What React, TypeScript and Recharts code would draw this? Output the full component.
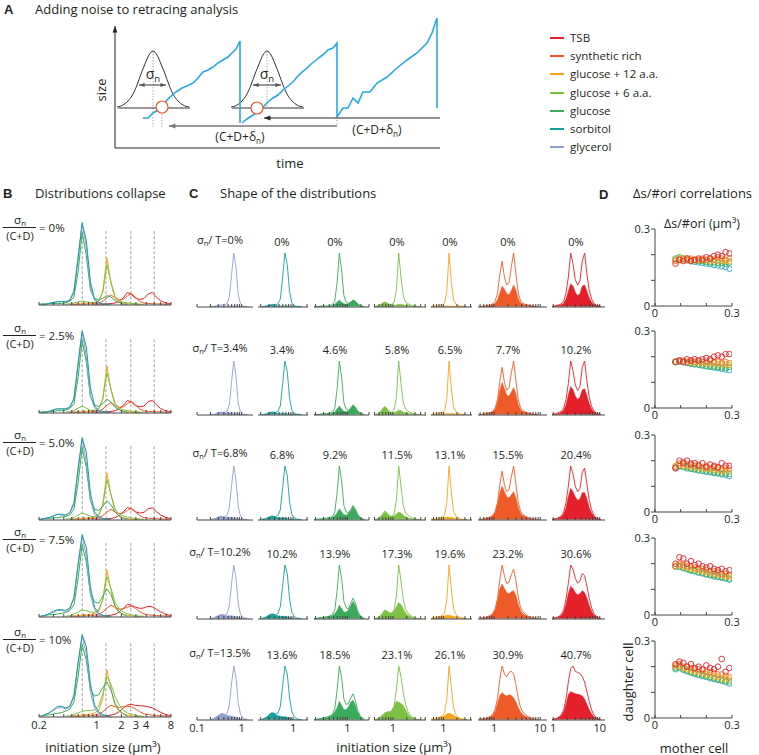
import React from 'react';
import { ComposedChart, Line, Area, Scatter, XAxis, YAxis, ReferenceLine } from 'recharts';

const FONT = '"Open Sans", "Noto Sans", "DejaVu Sans", sans-serif';
const INK = '#231f20';

// ---------- Legend / conditions ----------
const LEGEND_NAMES = ['TSB', 'synthetic rich', 'glucose + 12 a.a.', 'glucose + 6 a.a.', 'glucose', 'sorbitol', 'glycerol'];
const LEGEND_COLORS = ['#e4202a', '#ef5a29', '#f6a41c', '#7cc144', '#3aab5b', '#16a09b', '#8e9fd2'];

// C-panel column order: glycerol, sorbitol, glucose, glucose+6, glucose+12, synthetic rich, TSB
const COND_COLORS = ['#8e9fd2', '#16a09b', '#3aab5b', '#7cc144', '#f6a41c', '#ef5a29', '#e4202a'];

// initiation size grid (µm³), log-spaced
const SIZE_GRID = [0.094, 0.106, 0.119, 0.133, 0.15, 0.168, 0.188, 0.211, 0.237, 0.266, 0.299, 0.335, 0.376, 0.422, 0.473, 0.531, 0.596, 0.668, 0.75, 0.841, 0.944, 1.059, 1.189, 1.334, 1.496, 1.679, 1.884, 2.113, 2.371, 2.661, 2.985, 3.35, 3.758, 4.217, 4.732, 5.309, 5.957, 6.683, 7.499, 8.414, 9.44, 10.59];
const COND_START = [7, 7, 6, 13, 15, 14, 20];

const GLYCEROL_TOTAL = [
  [0, 0, 1, 2, 3, 3, 3, 5, 18, 60, 100, 72, 22, 5, 1, 0, 0],
  [0, 0, 1, 3, 4, 4, 4, 6, 18, 62, 100, 70, 20, 5, 1, 0, 0],
  [0, 1, 2, 4, 6, 5, 5, 8, 22, 64, 100, 72, 24, 6, 2, 0, 0],
  [0, 1, 3, 5, 7, 7, 6, 9, 24, 66, 100, 75, 27, 8, 2, 1, 0],
  [0, 2, 4, 7, 10, 11, 9, 12, 27, 68, 100, 78, 30, 10, 3, 1, 0],
];
const GLYCEROL_NOISE = [
  [0, 0, 0, 1, 1, 1, 1, 1, 1, 1, 1, 1, 0, 0, 0, 0, 0],
  [0, 0, 1, 3, 4, 4, 3, 3, 3, 3, 2, 2, 1, 0, 0, 0, 0],
  [0, 1, 2, 4, 6, 5, 4, 4, 4, 4, 3, 2, 1, 0, 0, 0, 0],
  [0, 1, 3, 5, 7, 7, 6, 5, 5, 5, 4, 3, 2, 1, 0, 0, 0],
  [0, 2, 4, 7, 10, 11, 9, 8, 7, 6, 5, 4, 2, 1, 0, 0, 0],
];
const SORBITOL_TOTAL = [
  [0, 0, 1, 2, 3, 3, 3, 5, 14, 55, 100, 78, 28, 6, 2, 0, 0, 0],
  [0, 0, 1, 3, 4, 4, 4, 6, 16, 58, 100, 80, 30, 8, 2, 1, 0, 0],
  [0, 1, 2, 4, 6, 6, 5, 8, 18, 60, 100, 82, 32, 9, 3, 1, 0, 0],
  [0, 1, 3, 6, 8, 8, 7, 10, 22, 62, 100, 84, 36, 11, 4, 1, 0, 0],
  [0, 2, 4, 8, 12, 12, 10, 12, 24, 64, 100, 85, 40, 14, 5, 2, 0, 0],
];
const SORBITOL_NOISE = [
  [0, 0, 1, 2, 3, 3, 2, 1, 1, 1, 1, 1, 0, 0, 0, 0, 0, 0],
  [0, 0, 1, 3, 4, 4, 3, 2, 2, 2, 2, 1, 1, 0, 0, 0, 0, 0],
  [0, 1, 2, 4, 6, 6, 4, 3, 3, 3, 3, 2, 1, 0, 0, 0, 0, 0],
  [0, 1, 3, 6, 8, 8, 6, 5, 4, 4, 4, 3, 2, 1, 0, 0, 0, 0],
  [0, 2, 4, 8, 12, 12, 9, 7, 6, 5, 5, 4, 3, 1, 0, 0, 0, 0],
];
const GLUCOSE_TOTAL = [
  [0, 0, 0, 1, 1, 1, 1, 2, 4, 10, 45, 100, 68, 20, 8, 6, 8, 12, 10, 5, 2, 0, 0],
  [0, 0, 0, 1, 1, 2, 2, 3, 5, 12, 48, 100, 70, 22, 10, 8, 12, 18, 14, 7, 3, 1, 0],
  [0, 0, 1, 1, 2, 2, 3, 4, 6, 14, 50, 100, 72, 26, 14, 12, 18, 26, 20, 10, 4, 1, 0],
  [0, 0, 1, 2, 2, 3, 4, 5, 8, 16, 52, 100, 75, 32, 20, 18, 28, 38, 30, 14, 6, 2, 0],
  [0, 0, 1, 2, 3, 4, 5, 7, 10, 20, 55, 100, 78, 38, 28, 30, 40, 48, 36, 18, 8, 3, 0],
];
const GLUCOSE_NOISE = [
  [0, 0, 0, 0, 0, 0, 0, 1, 2, 4, 8, 12, 8, 5, 4, 5, 8, 12, 10, 5, 2, 0, 0],
  [0, 0, 0, 0, 1, 1, 1, 2, 3, 5, 10, 16, 10, 6, 5, 7, 11, 17, 13, 6, 3, 1, 0],
  [0, 0, 0, 1, 1, 2, 2, 3, 4, 7, 12, 20, 14, 9, 8, 11, 16, 24, 18, 9, 4, 1, 0],
  [0, 0, 1, 1, 2, 2, 3, 4, 6, 9, 15, 25, 18, 12, 12, 16, 24, 32, 25, 12, 5, 2, 0],
  [0, 0, 1, 2, 3, 3, 4, 6, 9, 14, 22, 34, 26, 18, 18, 24, 32, 36, 27, 14, 6, 2, 0],
];
const GLUCOSE6_TOTAL = [
  [0, 1, 3, 6, 8, 6, 4, 4, 8, 30, 100, 55, 20, 8, 5, 3, 2, 1, 0, 0],
  [0, 1, 4, 10, 15, 10, 5, 4, 8, 32, 100, 58, 22, 10, 6, 4, 2, 1, 0, 0],
  [0, 1, 4, 10, 16, 12, 7, 6, 10, 35, 100, 62, 26, 12, 8, 5, 3, 1, 0, 0],
  [0, 1, 5, 10, 16, 14, 10, 10, 16, 42, 100, 70, 35, 18, 10, 6, 3, 1, 0, 0],
  [0, 1, 4, 8, 12, 14, 14, 16, 25, 55, 100, 80, 50, 28, 15, 8, 4, 2, 0, 0],
];
const GLUCOSE6_NOISE = [
  [0, 1, 3, 6, 8, 6, 3, 2, 2, 3, 4, 4, 3, 2, 2, 2, 1, 1, 0, 0],
  [0, 1, 4, 10, 15, 10, 4, 2, 3, 5, 8, 7, 4, 3, 2, 2, 1, 1, 0, 0],
  [0, 1, 4, 9, 14, 11, 6, 5, 7, 10, 14, 12, 8, 5, 3, 2, 1, 1, 0, 0],
  [0, 1, 4, 9, 14, 13, 10, 10, 14, 22, 30, 26, 18, 10, 6, 4, 2, 1, 0, 0],
  [0, 1, 4, 8, 12, 14, 14, 16, 24, 34, 32, 30, 26, 18, 10, 5, 3, 1, 0, 0],
];
const GLUCOSE12_TOTAL = [
  [0, 0, 1, 2, 3, 3, 6, 28, 100, 45, 12, 4, 2, 1, 0, 0, 0],
  [0, 0, 1, 2, 3, 4, 7, 30, 100, 48, 14, 5, 2, 1, 0, 0, 0],
  [0, 1, 1, 2, 4, 5, 8, 32, 100, 52, 16, 6, 3, 1, 0, 0, 0],
  [0, 1, 2, 3, 4, 6, 10, 35, 100, 55, 18, 8, 4, 2, 1, 0, 0],
  [0, 1, 2, 3, 5, 7, 12, 38, 100, 60, 22, 10, 5, 2, 1, 0, 0],
];
const GLUCOSE12_NOISE = [
  [0, 0, 0, 0, 0, 0, 1, 1, 1, 1, 1, 0, 0, 0, 0, 0, 0],
  [0, 0, 0, 1, 1, 1, 2, 2, 2, 2, 2, 1, 1, 0, 0, 0, 0],
  [0, 0, 1, 1, 2, 3, 4, 4, 4, 4, 3, 2, 1, 0, 0, 0, 0],
  [0, 1, 1, 2, 3, 4, 5, 6, 6, 5, 4, 3, 2, 1, 0, 0, 0],
  [0, 1, 1, 2, 3, 5, 7, 10, 12, 10, 8, 5, 3, 1, 0, 0, 0],
];
const SYNTH_TOTAL = [
  [0, 0, 1, 1, 2, 3, 5, 10, 25, 60, 85, 55, 40, 45, 75, 100, 60, 25, 10, 6, 4, 3, 2, 1, 0, 0],
  [0, 0, 1, 2, 3, 4, 6, 12, 28, 62, 88, 60, 45, 50, 78, 100, 62, 28, 12, 7, 5, 3, 2, 1, 0, 0],
  [0, 0, 1, 2, 3, 5, 8, 15, 32, 65, 90, 65, 52, 56, 80, 100, 65, 32, 15, 9, 6, 4, 2, 1, 1, 0],
  [0, 1, 1, 2, 4, 6, 10, 18, 38, 72, 100, 80, 65, 68, 82, 92, 70, 40, 20, 12, 8, 5, 3, 2, 1, 0],
  [0, 1, 1, 2, 4, 6, 10, 20, 40, 75, 100, 85, 80, 88, 90, 85, 65, 40, 22, 14, 9, 6, 4, 2, 1, 0],
];
const SYNTH_NOISE = [
  [0, 0, 0, 1, 1, 2, 3, 6, 12, 25, 38, 32, 24, 22, 30, 40, 30, 14, 7, 4, 3, 2, 1, 1, 0, 0],
  [0, 0, 1, 1, 2, 3, 5, 10, 22, 45, 60, 48, 36, 34, 42, 50, 38, 18, 9, 5, 4, 3, 2, 1, 0, 0],
  [0, 0, 1, 2, 3, 4, 7, 13, 28, 50, 62, 52, 42, 40, 46, 52, 40, 22, 11, 7, 5, 3, 2, 1, 0, 0],
  [0, 1, 1, 2, 3, 5, 9, 16, 32, 55, 64, 56, 48, 46, 50, 52, 42, 26, 14, 8, 6, 4, 2, 1, 0, 0],
  [0, 1, 1, 2, 3, 5, 8, 15, 30, 45, 50, 46, 44, 46, 45, 40, 32, 22, 14, 9, 6, 4, 2, 1, 0, 0],
];
const TSB_TOTAL = [
  [0, 1, 2, 3, 5, 10, 25, 55, 100, 80, 50, 40, 48, 85, 100, 60, 30, 14, 6, 2, 1, 0],
  [0, 1, 2, 4, 6, 12, 28, 58, 100, 82, 55, 45, 52, 88, 100, 62, 32, 15, 7, 3, 1, 0],
  [0, 1, 2, 4, 7, 14, 32, 62, 100, 85, 62, 52, 58, 88, 96, 65, 36, 18, 8, 3, 1, 0],
  [0, 1, 2, 4, 8, 16, 36, 66, 100, 92, 75, 66, 70, 84, 80, 60, 38, 20, 9, 4, 1, 0],
  [0, 1, 2, 5, 9, 18, 38, 70, 95, 100, 90, 88, 86, 80, 70, 52, 34, 18, 8, 4, 1, 0],
];
const TSB_NOISE = [
  [0, 0, 1, 2, 3, 6, 14, 28, 42, 38, 26, 20, 24, 38, 40, 28, 16, 8, 4, 2, 1, 0],
  [0, 0, 1, 2, 4, 8, 18, 36, 52, 46, 34, 28, 32, 46, 48, 34, 20, 10, 5, 2, 1, 0],
  [0, 1, 1, 3, 5, 10, 22, 42, 58, 52, 42, 36, 38, 50, 50, 38, 22, 12, 6, 2, 1, 0],
  [0, 1, 1, 3, 6, 12, 26, 46, 60, 56, 48, 44, 46, 52, 48, 38, 24, 13, 6, 3, 1, 0],
  [0, 1, 2, 4, 7, 14, 28, 46, 52, 50, 48, 47, 46, 44, 38, 28, 18, 10, 5, 2, 1, 0],
];
const COND_TOTAL = [GLYCEROL_TOTAL, SORBITOL_TOTAL, GLUCOSE_TOTAL, GLUCOSE6_TOTAL, GLUCOSE12_TOTAL, SYNTH_TOTAL, TSB_TOTAL];
const COND_NOISE = [GLYCEROL_NOISE, SORBITOL_NOISE, GLUCOSE_NOISE, GLUCOSE6_NOISE, GLUCOSE12_NOISE, SYNTH_NOISE, TSB_NOISE];
// relative heights in panel B (density per linear size)
const B_SCALE = [0.95, 0.97, 0.85, 0.47, 0.55, 0.13, 0.14];
const B_DRAW_ORDER = [6, 5, 4, 3, 2, 0, 1];

// ---------- labels ----------
const B_NOISE_LABELS = ['0%', '2.5%', '5.0%', '7.5%', '10%'];
const C_NOISE_LABELS = [
  ['0%', '0%', '0%', '0%', '0%', '0%', '0%'],
  ['3.4%', '3.4%', '4.6%', '5.8%', '6.5%', '7.7%', '10.2%'],
  ['6.8%', '6.8%', '9.2%', '11.5%', '13.1%', '15.5%', '20.4%'],
  ['10.2%', '10.2%', '13.9%', '17.3%', '19.6%', '23.2%', '30.6%'],
  ['13.5%', '13.6%', '18.5%', '23.1%', '26.1%', '30.9%', '40.7%'],
];
const B_TICKS = [0.2, 0.3, 0.4, 0.5, 0.6, 0.7, 0.8, 0.9, 1, 2, 3, 4, 5, 6, 7, 8];
const B_TICK_LABELS = [0.2, 1, 2, 3, 4, 8];
const B_GUIDES = [0.67, 1.3, 2.6, 5];
const LOG_TICKS = [0.1, 0.2, 0.3, 0.4, 0.5, 0.6, 0.7, 0.8, 0.9, 1, 2, 3, 4, 5, 6, 7, 8, 9, 10];
const C_TICK_LABELS = [0.1, 1, 10];
const C_DOMAINS = [[0.1, 1.8], [0.175, 2.1], [0.185, 3.0], [0.39, 5.2], [0.53, 4.3], [0.45, 14], [0.94, 13]];

// ---------- panel D ----------
const D_X = [0.08, 0.095, 0.11, 0.125, 0.14, 0.155, 0.17, 0.185, 0.2, 0.215, 0.23, 0.245, 0.26, 0.275, 0.29];
const D_TICKS = [0, 0.1, 0.2, 0.3];
const D_TSB = [
  [0.165, 0.18, 0.175, 0.185, 0.175, 0.18, 0.185, 0.18, 0.19, 0.185, 0.195, 0.2, 0.195, 0.21, 0.205],
  [0.18, 0.185, 0.18, 0.19, 0.185, 0.19, 0.185, 0.19, 0.195, 0.19, 0.2, 0.205, 0.2, 0.21, 0.21],
  [0.17, 0.2, 0.19, 0.2, 0.185, 0.19, 0.18, 0.19, 0.175, 0.185, 0.18, 0.175, 0.19, 0.18, 0.18],
  [0.2, 0.225, 0.22, 0.2, 0.21, 0.195, 0.2, 0.19, 0.185, 0.19, 0.18, 0.175, 0.18, 0.17, 0.175],
  [0.21, 0.22, 0.215, 0.2, 0.21, 0.195, 0.2, 0.19, 0.205, 0.195, 0.19, 0.2, 0.23, 0.18, 0.195],
];
const D_SYNTH = [
  [0.175, 0.18, 0.185, 0.18, 0.185, 0.18, 0.18, 0.185, 0.18, 0.185, 0.18, 0.19, 0.185, 0.18, 0.185],
  [0.18, 0.185, 0.185, 0.18, 0.185, 0.18, 0.185, 0.18, 0.18, 0.185, 0.18, 0.18, 0.175, 0.18, 0.175],
  [0.175, 0.19, 0.195, 0.185, 0.19, 0.18, 0.185, 0.175, 0.18, 0.17, 0.175, 0.17, 0.165, 0.17, 0.17],
  [0.19, 0.2, 0.195, 0.19, 0.19, 0.185, 0.18, 0.18, 0.175, 0.17, 0.17, 0.165, 0.16, 0.16, 0.155],
  [0.205, 0.21, 0.2, 0.2, 0.195, 0.19, 0.19, 0.185, 0.18, 0.18, 0.175, 0.17, 0.17, 0.165, 0.16],
];
const D_GLC12 = [
  [0.18, 0.185, 0.18, 0.185, 0.18, 0.18, 0.18, 0.178, 0.18, 0.175, 0.18, 0.175, 0.178, 0.175, 0.175],
  [0.18, 0.185, 0.18, 0.18, 0.178, 0.18, 0.175, 0.178, 0.175, 0.172, 0.175, 0.17, 0.172, 0.17, 0.168],
  [0.18, 0.185, 0.18, 0.18, 0.175, 0.178, 0.172, 0.17, 0.17, 0.168, 0.165, 0.165, 0.16, 0.16, 0.162],
  [0.19, 0.195, 0.19, 0.185, 0.18, 0.178, 0.175, 0.17, 0.168, 0.165, 0.16, 0.158, 0.155, 0.152, 0.15],
  [0.2, 0.205, 0.195, 0.19, 0.185, 0.18, 0.178, 0.175, 0.17, 0.168, 0.162, 0.16, 0.155, 0.152, 0.15],
];
const D_GLC6 = [
  [0.185, 0.19, 0.185, 0.18, 0.18, 0.178, 0.175, 0.175, 0.172, 0.17, 0.17, 0.168, 0.168, 0.165, 0.17],
  [0.18, 0.185, 0.18, 0.178, 0.175, 0.172, 0.17, 0.168, 0.165, 0.165, 0.162, 0.16, 0.158, 0.157, 0.16],
  [0.175, 0.18, 0.178, 0.175, 0.17, 0.168, 0.165, 0.162, 0.16, 0.158, 0.155, 0.153, 0.15, 0.15, 0.148],
  [0.19, 0.19, 0.185, 0.18, 0.175, 0.172, 0.168, 0.165, 0.16, 0.158, 0.155, 0.15, 0.148, 0.145, 0.142],
  [0.195, 0.2, 0.19, 0.185, 0.18, 0.175, 0.17, 0.168, 0.163, 0.16, 0.155, 0.152, 0.148, 0.145, 0.143],
];
const D_SORB = [
  [0.18, 0.185, 0.18, 0.178, 0.175, 0.172, 0.17, 0.168, 0.165, 0.163, 0.16, 0.158, 0.155, 0.152, 0.145],
  [0.178, 0.18, 0.178, 0.175, 0.172, 0.17, 0.168, 0.165, 0.162, 0.16, 0.158, 0.155, 0.153, 0.15, 0.148],
  [0.172, 0.178, 0.175, 0.17, 0.168, 0.165, 0.162, 0.16, 0.157, 0.155, 0.152, 0.15, 0.147, 0.145, 0.14],
  [0.188, 0.188, 0.183, 0.178, 0.173, 0.17, 0.165, 0.162, 0.158, 0.155, 0.15, 0.148, 0.145, 0.142, 0.138],
  [0.19, 0.195, 0.188, 0.182, 0.177, 0.172, 0.168, 0.163, 0.16, 0.155, 0.152, 0.148, 0.145, 0.14, 0.135],
];
const D_SERIES = [D_SORB, D_GLC6, D_GLC12, D_SYNTH, D_TSB];
const D_COLORS = ['#2aa3c0', '#3fb04f', '#f2b21c', '#f07a2a', '#e4202a'];

// ---------- panel A schematic (time t, size s, arbitrary units) ----------
const CELL_1 = [[28, 30], [33, 30], [38, 35], [43, 38], [48, 42], [52, 48], [55, 51], [61, 56], [67, 60], [72, 62], [78, 65], [83, 70], [88, 76], [93, 78], [98, 81], [103, 85], [108, 88], [113, 91], [117, 95], [121, 99], [125, 107], [125, 25]];
const CELL_2 = [[127, 25], [132, 29], [138, 33], [143, 36], [148, 41], [153, 46], [158, 50], [163, 53], [168, 58], [173, 62], [178, 66], [182, 71], [187, 76], [191, 79], [195, 83], [200, 87], [205, 91], [209, 94], [213, 98], [218, 100], [222, 105], [222, 31]];
const CELL_3 = [[222, 31], [228, 40], [233, 40], [238, 50], [243, 45], [248, 56], [255, 56], [262, 65], [272, 71], [282, 80], [292, 88], [302, 95], [312, 105], [317, 115], [322, 130], [322, 40]];
const BELL_1 = [[2, 41], [8, 43], [13, 47], [18, 54], [22, 63], [26, 74], [30, 84], [34, 93], [38, 97], [42, 93], [46, 84], [50, 74], [54, 63], [58, 54], [63, 47], [68, 43], [74, 41]];
const BELL_2 = [[116, 41], [122, 43], [127, 47], [132, 54], [136, 63], [140, 74], [144, 84], [148, 93], [152, 97], [156, 93], [160, 84], [164, 74], [168, 63], [172, 54], [177, 47], [182, 43], [188, 41]];
const BELL_BASE_1 = [[3, 40], [75, 40]];
const BELL_BASE_2 = [[117, 40], [189, 40]];
const GUIDES_A = [
  [[38, 97], [38, 21]],
  [[47, 40], [47, 21]],
  [[152, 97], [152, 40]],
  [[222, 31], [222, 22]],
];
const SIGMA_1 = [[24, 63], [51, 63]];
const SIGMA_2 = [[138, 63], [166, 63]];
const DELAY_1 = [[325, 30], [149, 30]];
const DELAY_2 = [[222, 22], [54, 22]];
const INIT_POINTS = [[47, 41], [142, 40]];
const AXIS_Y = [[0, 0], [0, 122]];
const AXIS_X = [[0, 0], [325, 0]];

const pts = (arr: number[][]) => arr.map(([t, s]) => ({ t, s }));
const toPoints = (start: number, values: number[], scale = 1) =>
  values.map((v, i) => ({ x: SIZE_GRID[start + i], y: v * scale }));

// ---------- helpers ----------
type TxtProps = { x: number; y: number; size?: number; align?: 'l' | 'c' | 'r'; bold?: boolean; rotate?: boolean; children: React.ReactNode; color?: string };
function Txt({ x, y, size = 12, align = 'l', bold = false, rotate = false, children, color = INK }: TxtProps) {
  const tx = align === 'c' ? '-50%' : align === 'r' ? '-100%' : '0';
  return (
    <div
      style={{
        position: 'absolute', left: x, top: y, fontFamily: bold ? '"Liberation Sans", Arial, sans-serif' : FONT,
        fontWeight: bold ? 700 : 400, fontSize: size, lineHeight: 1, color, whiteSpace: 'nowrap',
        transform: `translate(${tx}, -50%)${rotate ? ' rotate(-90deg)' : ''}`,
      }}
    >
      {children}
    </div>
  );
}
const Sub = ({ children }: { children: React.ReactNode }) => (
  <span style={{ fontSize: '0.68em', verticalAlign: '-0.3em' }}>{children}</span>
);

const arrowHead = (color: string, dir: 'left' | 'right' | 'up', size = 5) => (p: any) => {
  const { cx, cy } = p;
  if (cx == null || cy == null) return <g />;
  let d = '';
  if (dir === 'left') d = `${cx},${cy} ${cx + size * 1.6},${cy - size * 0.6} ${cx + size * 1.6},${cy + size * 0.6}`;
  if (dir === 'right') d = `${cx},${cy} ${cx - size * 1.6},${cy - size * 0.6} ${cx - size * 1.6},${cy + size * 0.6}`;
  if (dir === 'up') d = `${cx},${cy} ${cx - size * 0.6},${cy + size * 1.6} ${cx + size * 0.6},${cy + size * 1.6}`;
  return <polygon points={d} fill={color} />;
};
const ring = (color: string, r = 2.8, fill = 'none', sw = 0.9) => (p: any) =>
  p.cx == null ? <g /> : <circle cx={p.cx} cy={p.cy} r={r} fill={fill} stroke={color} strokeWidth={sw} />;

const tickStyle = { fontSize: 11, fill: INK, fontFamily: FONT };

// ---------- Panel A ----------
function PanelA() {
  const blue = '#27aae1';
  return (
    <div style={{ position: 'absolute', left: 105, top: 8 }}>
      <ComposedChart width={345} height={150} margin={{ top: 0, right: 0, bottom: 0, left: 0 }}>
        <XAxis type="number" dataKey="t" domain={[-10, 335]} hide allowDataOverflow />
        <YAxis type="number" dataKey="s" domain={[-10, 140]} hide allowDataOverflow />
        <Line data={pts(AXIS_Y)} dataKey="s" stroke={INK} strokeWidth={1} dot={false} isAnimationActive={false} />
        <Line data={pts(AXIS_X)} dataKey="s" stroke={INK} strokeWidth={1} dot={false} isAnimationActive={false} />
        {GUIDES_A.map((g, i) => (
          <Line key={'g' + i} data={pts(g)} dataKey="s" stroke="#999" strokeWidth={0.8} strokeDasharray="1.5 1.5" dot={false} isAnimationActive={false} />
        ))}
        <Line data={pts(BELL_BASE_1)} dataKey="s" stroke="#333" strokeWidth={1} dot={false} isAnimationActive={false} />
        <Line data={pts(BELL_BASE_2)} dataKey="s" stroke="#333" strokeWidth={1} dot={false} isAnimationActive={false} />
        <Line data={pts(BELL_1)} dataKey="s" type="monotone" stroke="#333" strokeWidth={1} dot={false} isAnimationActive={false} />
        <Line data={pts(BELL_2)} dataKey="s" type="monotone" stroke="#333" strokeWidth={1} dot={false} isAnimationActive={false} />
        <Line data={pts(SIGMA_1)} dataKey="s" stroke="#555" strokeWidth={1.2} dot={false} isAnimationActive={false} />
        <Line data={pts(SIGMA_2)} dataKey="s" stroke="#555" strokeWidth={1.2} dot={false} isAnimationActive={false} />
        <Line data={pts(DELAY_1)} dataKey="s" stroke="#222" strokeWidth={1.2} dot={false} isAnimationActive={false} />
        <Line data={pts(DELAY_2)} dataKey="s" stroke="#777" strokeWidth={1.5} dot={false} isAnimationActive={false} />
        <Line data={pts(CELL_1)} dataKey="s" stroke={blue} strokeWidth={1.6} dot={false} isAnimationActive={false} />
        <Line data={pts(CELL_2)} dataKey="s" stroke={blue} strokeWidth={1.6} dot={false} isAnimationActive={false} />
        <Line data={pts(CELL_3)} dataKey="s" stroke={blue} strokeWidth={1.6} dot={false} isAnimationActive={false} />
        <Scatter data={pts([AXIS_Y[1]])} shape={arrowHead(INK, 'up', 4)} isAnimationActive={false} />
        <Scatter data={pts([SIGMA_1[0], SIGMA_2[0]])} shape={arrowHead('#555', 'left', 3.5)} isAnimationActive={false} />
        <Scatter data={pts([SIGMA_1[1], SIGMA_2[1]])} shape={arrowHead('#555', 'right', 3.5)} isAnimationActive={false} />
        <Scatter data={pts([DELAY_1[1]])} shape={arrowHead('#222', 'left', 4)} isAnimationActive={false} />
        <Scatter data={pts([DELAY_2[1]])} shape={arrowHead('#777', 'left', 4)} isAnimationActive={false} />
        <Scatter data={pts(INIT_POINTS)} shape={ring('#ef5a29', 6, '#fff', 1.2)} isAnimationActive={false} />
      </ComposedChart>
    </div>
  );
}

// ---------- Panel B ----------
const B_BASE = [305, 413, 520, 617, 717];
const B_PLOT_H = 85;
function BRow({ row }: { row: number }) {
  return (
    <div style={{ position: 'absolute', left: 29, top: B_BASE[row] - B_PLOT_H }}>
      <ComposedChart width={152} height={B_PLOT_H + 22} margin={{ top: 0, right: 10, bottom: 0, left: 10 }}>
        <XAxis
          type="number" dataKey="x" scale="log" domain={[0.2, 8]} allowDataOverflow ticks={B_TICKS} interval={0}
          tickFormatter={(v: number) => (row === 4 && B_TICK_LABELS.includes(v) ? String(v) : '')}
          tickSize={-3} tickMargin={7} height={22} stroke="#444" tick={tickStyle}
        />
        <YAxis type="number" dataKey="y" domain={[-1, 100]} hide allowDataOverflow />
        {B_GUIDES.map((g) => (
          <ReferenceLine key={g} segment={[{ x: g, y: 0 }, { x: g, y: 88 }]} stroke="#8a8a8a" strokeWidth={0.8} strokeDasharray="3 2" />
        ))}
        {B_DRAW_ORDER.map((ci) => (
          <Line
            key={ci} data={toPoints(COND_START[ci], COND_TOTAL[ci][row], B_SCALE[ci])} dataKey="y"
            stroke={COND_COLORS[ci]} strokeWidth={1} dot={false} activeDot={false} isAnimationActive={false}
          />
        ))}
      </ComposedChart>
    </div>
  );
}
function BLabel({ row }: { row: number }) {
  const y = B_BASE[row] - 77;
  return (
    <>
      <Txt x={20} y={y - 7} size={11.5} align="c">σ<Sub>n</Sub></Txt>
      <div style={{ position: 'absolute', left: 3, top: y - 1, width: 33, height: 1, background: INK }} />
      <Txt x={20} y={y + 7} size={11} align="c">(C+D)</Txt>
      <Txt x={39} y={y} size={11.5}>= {B_NOISE_LABELS[row]}</Txt>
    </>
  );
}

// ---------- Panel C ----------
const C_BASE = [307, 415, 520, 619, 720];
const C_PLOT_H = 54;
const C_LEFT = [197, 258, 314, 374, 431, 478, 552];
const C_RIGHT = [253, 308, 369, 426, 472, 547, 605];
const C_LABEL_X = [220, 282, 335, 397, 450, 508, 576];
function CCell({ row, col }: { row: number; col: number }) {
  const [d0, d1] = C_DOMAINS[col];
  const ticks = LOG_TICKS.filter((t) => t >= d0 - 1e-9 && t <= d1 + 1e-9);
  const color = COND_COLORS[col];
  return (
    <div style={{ position: 'absolute', left: C_LEFT[col] - 10, top: C_BASE[row] - C_PLOT_H }}>
      <ComposedChart width={C_RIGHT[col] - C_LEFT[col] + 20} height={C_PLOT_H + 22} margin={{ top: 0, right: 10, bottom: 0, left: 10 }}>
        <XAxis
          type="number" dataKey="x" scale="log" domain={[d0, d1]} allowDataOverflow ticks={ticks} interval={0}
          tickFormatter={(v: number) => (row === 4 && C_TICK_LABELS.includes(v) ? String(v) : '')}
          tickSize={-3} tickMargin={7} height={22} stroke="#444" tick={tickStyle}
        />
        <YAxis type="number" dataKey="y" domain={[-1, 100]} hide allowDataOverflow />
        <Area
          data={toPoints(COND_START[col], COND_NOISE[col][row])} dataKey="y" type="linear"
          fill={color} fillOpacity={1} stroke={color} strokeWidth={0.6} isAnimationActive={false} activeDot={false}
        />
        <Line
          data={toPoints(COND_START[col], COND_TOTAL[col][row])} dataKey="y"
          stroke={color} strokeWidth={0.9} dot={false} activeDot={false} isAnimationActive={false}
        />
      </ComposedChart>
    </div>
  );
}

// ---------- Panel D ----------
const D_TOP = [229, 331, 435, 538, 641];
const D_PLOT = 77;
const D_YW = 36;
const D_MT = 12;
function DRow({ row }: { row: number }) {
  const fmt = (v: number) => (v === 0 ? '0' : v === 0.3 ? '0.3' : '');
  return (
    <div style={{ position: 'absolute', left: 655 - D_YW, top: D_TOP[row] - D_MT }}>
      <ComposedChart width={D_YW + D_PLOT + 12} height={D_MT + D_PLOT + 18} margin={{ top: D_MT, right: 12, bottom: 0, left: 0 }}>
        <XAxis
          type="number" dataKey="x" domain={[0, 0.3]} ticks={D_TICKS} interval={0} tickFormatter={fmt}
          allowDataOverflow tickSize={-3} tickMargin={6} height={18} stroke="#444" tick={tickStyle}
        />
        <YAxis
          type="number" dataKey="y" domain={[0, 0.3]} ticks={D_TICKS} interval={0} tickFormatter={fmt}
          allowDataOverflow tickSize={4} tickMargin={1} width={D_YW} stroke="#444" tick={tickStyle}
        />
        {D_SERIES.map((s, i) => (
          <Scatter
            key={i} data={s[row].map((y, j) => ({ x: D_X[j], y }))}
            shape={ring(D_COLORS[i])} isAnimationActive={false}
          />
        ))}
      </ComposedChart>
    </div>
  );
}

export default function App() {
  return (
    <div style={{ position: 'absolute', left: 0, top: 0, width: 759, height: 755, background: '#fff', overflow: 'hidden' }}>
      {/* Titles */}
      <Txt x={4} y={9} size={13} bold>A</Txt>
      <Txt x={35} y={9} size={13}>Adding noise to retracing analysis</Txt>
      <Txt x={3} y={193} size={13} bold>B</Txt>
      <Txt x={35} y={193} size={13}>Distributions collapse</Txt>
      <Txt x={189} y={193} size={13} bold>C</Txt>
      <Txt x={220} y={193} size={13}>Shape of the distributions</Txt>
      <Txt x={599} y={194} size={13} bold>D</Txt>
      <Txt x={633} y={193} size={13}>Δs/#ori correlations</Txt>

      {/* Panel A */}
      <PanelA />
      <Txt x={101} y={90} size={13} align="c" rotate>size</Txt>
      <Txt x={290} y={163} size={13} align="c">time</Txt>
      <Txt x={153} y={75} size={14} align="c">σ<Sub>n</Sub></Txt>
      <Txt x={267} y={75} size={14} align="c">σ<Sub>n</Sub></Txt>
      <Txt x={240} y={138} size={12} align="c">(C+D+δ<Sub>n</Sub>)</Txt>
      <Txt x={377} y={131} size={12} align="c">(C+D+δ<Sub>n</Sub>)</Txt>

      {/* Legend */}
      {LEGEND_NAMES.map((n, i) => (
        <React.Fragment key={n}>
          <div style={{ position: 'absolute', left: 550, top: Math.round(38 + i * 18.2) - 1, width: 14, height: 2, background: LEGEND_COLORS[i] }} />
          <Txt x={570} y={Math.round(38 + i * 18.2)} size={11.5}>{n}</Txt>
        </React.Fragment>
      ))}

      {/* Panel B */}
      {[0, 1, 2, 3, 4].map((r) => (
        <React.Fragment key={'b' + r}>
          <BRow row={r} />
          <BLabel row={r} />
        </React.Fragment>
      ))}
      <Txt x={103} y={747} size={13} align="c">initiation size (µm³)</Txt>

      {/* Panel C */}
      {[0, 1, 2, 3, 4].map((r) => (
        <React.Fragment key={'c' + r}>
          {[0, 1, 2, 3, 4, 5, 6].map((c) => (
            <CCell key={c} row={r} col={c} />
          ))}
          {[0, 1, 2, 3, 4, 5, 6].map((c) => (
            <Txt key={'l' + c} x={C_LABEL_X[c]} y={C_BASE[r] - 66} size={11} align="c">
              {c === 0 ? (<>σ<Sub>n</Sub>/ T={C_NOISE_LABELS[r][c]}</>) : C_NOISE_LABELS[r][c]}
            </Txt>
          ))}
        </React.Fragment>
      ))}
      <Txt x={394} y={747} size={13} align="c">initiation size (µm³)</Txt>

      {/* Panel D */}
      {[0, 1, 2, 3, 4].map((r) => (
        <DRow key={'d' + r} row={r} />
      ))}
      <Txt x={702} y={224} size={12.5} align="c">Δs/#ori (µm³)</Txt>
      <Txt x={628} y={682} size={13} align="c" rotate>daughter cell</Txt>
      <Txt x={694} y={748} size={13} align="c">mother cell</Txt>
    </div>
  );
}
